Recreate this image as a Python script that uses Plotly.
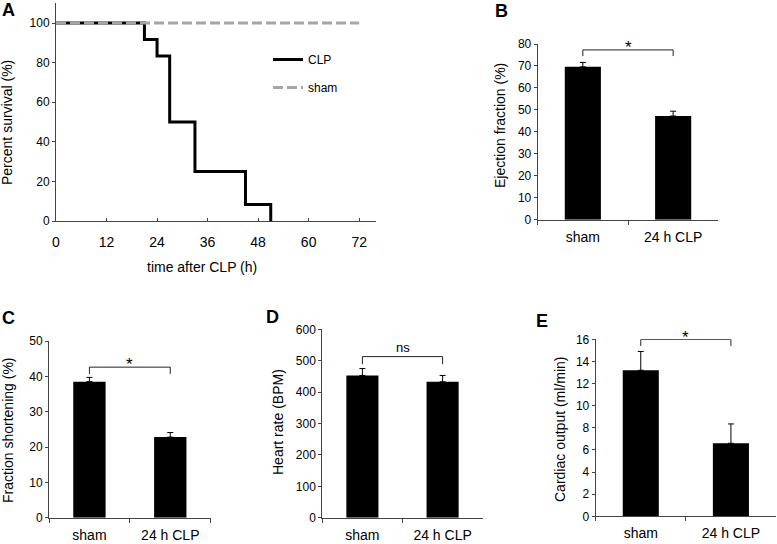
import plotly.graph_objects as go

W, H = 777, 544
FONT = "Liberation Sans, Arial, sans-serif"

# ---- data ----
surv_time = [0, 21, 24, 27, 33, 45, 51]
surv_clp = [100, 91.7, 83.3, 50, 25, 8.3, 0]
sham_time = [0, 72]
sham_surv = [100, 100]

groups = ["sham", "24 h CLP"]
ef_mean = [69.6, 47.2]
ef_err = [2.0, 2.2]
fs_mean = [38.5, 22.8]
fs_err = [1.2, 1.3]
hr_mean = [453, 433]
hr_err = [22, 20]
co_mean = [13.2, 6.6]
co_err = [1.7, 1.75]

# significance brackets: [end level, top level], label
ef_bracket = [74.5, 77.3]
fs_bracket = [40.7, 42.6]
hr_bracket = [489, 513]
co_bracket = [15.4, 15.98]
sig_labels = ["*", "*", "ns", "*"]


def px_x(a, b):
    return [a / W, b / W]


def px_y(bottom, top):
    return [1 - bottom / H, 1 - top / H]


fig = go.Figure()

# ---- Panel A ----
fig.add_trace(go.Scatter(x=surv_time, y=surv_clp, mode="lines", line_shape="hv",
                         line=dict(color="black", width=3), name="CLP",
                         legendgroup="a", xaxis="x", yaxis="y"))
fig.add_trace(go.Scatter(x=sham_time, y=sham_surv, mode="lines",
                         line=dict(color="#a6a6a6", width=3, dash="10px,4px"), name="sham",
                         legendgroup="b", xaxis="x", yaxis="y"))

panels = [
    ("x2", "y2", ef_mean, ef_err, ef_bracket, sig_labels[0]),
    ("x3", "y3", fs_mean, fs_err, fs_bracket, sig_labels[1]),
    ("x4", "y4", hr_mean, hr_err, hr_bracket, sig_labels[2]),
    ("x5", "y5", co_mean, co_err, co_bracket, sig_labels[3]),
]

annotations = []
for xa, ya, mean, err, br, lab in panels:
    fig.add_trace(go.Bar(x=groups, y=mean, width=0.4, marker=dict(color="black", line=dict(width=0)),
                         error_y=dict(type="data", array=err, arrayminus=[0] * len(err), symmetric=False,
                                      color="black", thickness=1, width=3),
                         showlegend=False, xaxis=xa, yaxis=ya))
    fig.add_trace(go.Scatter(x=[groups[0], groups[0], groups[1], groups[1]],
                             y=[br[0], br[1], br[1], br[0]], mode="lines",
                             line=dict(color="#222", width=1), showlegend=False,
                             cliponaxis=False, xaxis=xa, yaxis=ya))
    annotations.append(dict(x=0.5, y=br[1], xref=xa, yref=ya, text=lab, showarrow=False,
                            yanchor="bottom", yshift=0 if lab == "ns" else -9,
                            font=dict(size=13 if lab == "ns" else 17, family=FONT, color="black")))

# axis titles and panel letters (pixel positions)
titles = [
    ("Percent survival (%)", 7, 123, -90),
    ("time after CLP (h)", 202, 267, 0),
    ("Ejection fraction (%)", 500, 126, -90),
    ("Fraction shortening (%)", 8, 430, -90),
    ("Heart rate (BPM)", 278, 422, -90),
    ("Cardiac output (ml/min)", 560, 429, -90),
]
for t, x, y, ang in titles:
    annotations.append(dict(x=x / W, y=1 - y / H, xref="paper", yref="paper", text=t,
                            showarrow=False, textangle=ang, xanchor="center", yanchor="middle",
                            font=dict(size=14, family=FONT, color="black")))
letters = [("A", 8, 10), ("B", 501, 11), ("C", 8, 318), ("D", 272, 317), ("E", 542, 321)]
for t, x, y in letters:
    annotations.append(dict(x=x / W, y=1 - y / H, xref="paper", yref="paper", text="<b>%s</b>" % t,
                            showarrow=False, xanchor="center", yanchor="middle",
                            font=dict(size=18, family=FONT, color="black")))

AX = dict(showline=True, linecolor="#444", linewidth=1, showgrid=False, zeroline=False,
          tickcolor="#444", automargin=False, tickfont=dict(size=12, family=FONT, color="black"))


def cat_axis(dom, anchor):
    return dict(AX, domain=dom, anchor=anchor, type="category", range=[-0.5, 1.5],
                tickson="boundaries", ticks="outside", ticklen=4,
                ticklabelstandoff=4, tickfont=dict(size=14, family=FONT, color="black"))


def val_axis(dom, anchor, rng, dt):
    return dict(AX, domain=dom, anchor=anchor, range=rng, dtick=dt, ticks="outside", ticklen=3)


fig.update_layout(
    width=W, height=H, margin=dict(l=0, r=0, t=0, b=0, pad=0, autoexpand=False),
    plot_bgcolor="white", paper_bgcolor="white",
    font=dict(family=FONT, color="black"),
    bargap=0.6,
    xaxis=dict(AX, domain=px_x(56, 376), anchor="y", range=[0, 76], tick0=0, dtick=12,
               ticks="inside", ticklen=3, ticklabelstandoff=8,
               tickfont=dict(size=14, family=FONT, color="black")),
    yaxis=dict(AX, domain=px_y(221, 3.2), anchor="x", range=[0, 110], tickvals=[0, 20, 40, 60, 80, 100],
               ticks="outside", ticklen=3),
    xaxis2=cat_axis(px_x(537.7, 718.3), "y2"),
    yaxis2=val_axis(px_y(219.7, 44), "x2", [0, 80], 10),
    xaxis3=cat_axis(px_x(49, 210.7), "y3"),
    yaxis3=val_axis(px_y(517.7, 341), "x3", [0, 50], 10),
    xaxis4=cat_axis(px_x(322.3, 482.7), "y4"),
    yaxis4=val_axis(px_y(517.7, 329.3), "x4", [0, 600], 100),
    xaxis5=cat_axis(px_x(595.7, 776), "y5"),
    yaxis5=val_axis(px_y(516.3, 339.3), "x5", [0, 16], 2),
    legend=dict(x=268 / W, y=1 - 45 / H, xanchor="left", yanchor="top", bgcolor="rgba(0,0,0,0)",
                font=dict(size=12, family=FONT, color="black"), traceorder="grouped",
                tracegroupgap=9, itemwidth=30),
    annotations=annotations,
    showlegend=True,
)

fig.write_html("out.html", config={"displayModeBar": False},
               post_script="document.body.style.margin='0';document.body.style.padding='0';"
                           "document.body.style.overflow='hidden';")
